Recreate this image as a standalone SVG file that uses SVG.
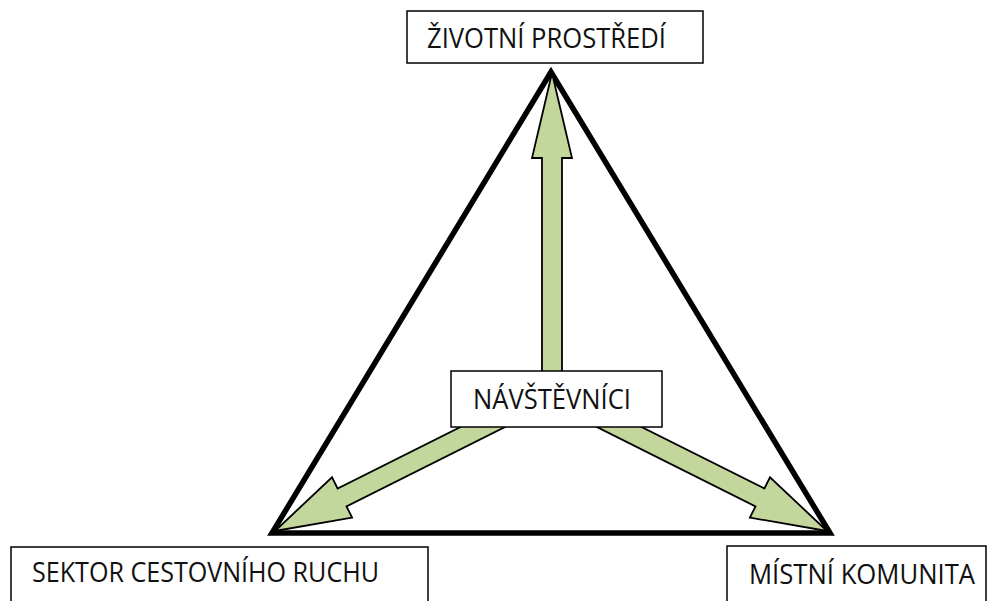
<svg xmlns="http://www.w3.org/2000/svg" width="987" height="601" viewBox="0 0 987 601">
<style>
.box{fill:#fff;stroke:#000;stroke-width:1.5}
.lbl{font-family:"Open Sans","Liberation Sans",sans-serif;font-size:27px;fill:#111}
.arr{fill:#c3d69b;stroke:#000;stroke-width:1.8;stroke-linejoin:miter}
.tri{fill:none;stroke:#000;stroke-width:5.5;stroke-linejoin:miter;stroke-miterlimit:20}
</style>
<rect width="987" height="601" fill="#fff"/>
<polygon class="tri" points="551,72 272,533 830,533"/>
<g id="connectors">
<polygon class="arr" points="552,73 572,158 562,158 562,380 542,380 542,158 532,158"/>
<polygon class="arr" points="275,531 332,477.3 337.6,488.5 503,405.8 512,423.6 346.5,506.4 352.1,517.6"/>
<polygon class="arr" points="827,531 770,477.3 764.4,488.5 599,405.8 590,423.6 755.5,506.4 749.9,517.6"/>
</g>
<g id="zivotni-prostredi">
<rect class="box" x="407" y="11" width="296" height="52"/>
<text class="lbl" x="427" y="48" textLength="239" lengthAdjust="spacingAndGlyphs">ŽIVOTNÍ PROSTŘEDÍ</text>
</g>
<g id="navstevnici">
<rect class="box" x="451" y="371" width="211" height="56"/>
<text class="lbl" x="473" y="409" textLength="158" lengthAdjust="spacingAndGlyphs">NÁVŠTĚVNÍCI</text>
</g>
<g id="sektor">
<rect class="box" x="11" y="547" width="417" height="60"/>
<text class="lbl" x="32" y="582" textLength="347" lengthAdjust="spacingAndGlyphs">SEKTOR CESTOVNÍHO RUCHU</text>
</g>
<g id="mistni-komunita">
<rect class="box" x="727" y="546" width="259" height="60"/>
<text class="lbl" x="749" y="584" textLength="226" lengthAdjust="spacingAndGlyphs">MÍSTNÍ KOMUNITA</text>
</g>
</svg>
